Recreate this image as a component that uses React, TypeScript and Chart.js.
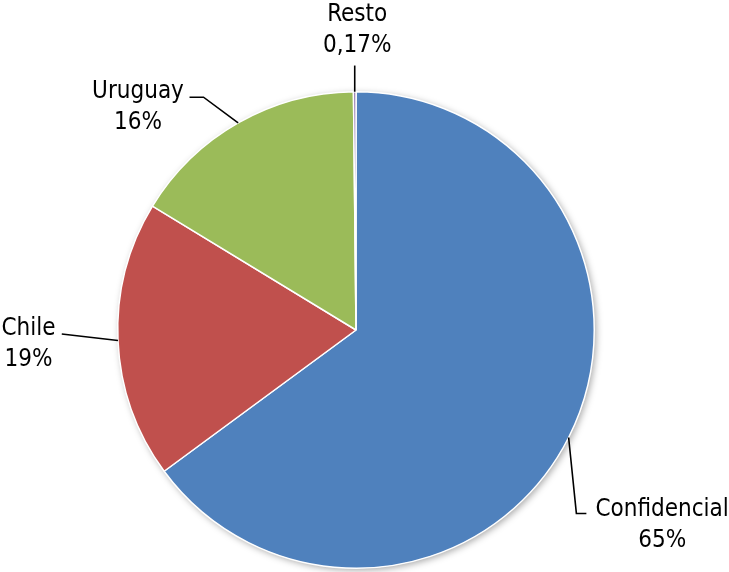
import React, { useEffect, useRef } from "react";
import { Chart, registerables } from "chart.js";

Chart.register(...registerables);

const categories = ["Confidencial", "Chile", "Uruguay", "Resto"];
const values = [64.9, 18.8, 16.13, 0.17];
const percentLabels = ["65%", "19%", "16%", "0,17%"];
const colors = ["#4F81BD", "#C0504D", "#9BBB59", "#8064A2"];

const FONT = "24px 'DejaVu Sans Condensed', 'DejaVu Sans', sans-serif";

const shadowPlugin = {
  id: "pieShadow",
  beforeDatasetsDraw(chart: any) {
    const meta = chart.getDatasetMeta(0);
    const arc = meta.data[0];
    if (!arc) return;
    const { x, y, outerRadius } = arc.getProps(["x", "y", "outerRadius"], true);
    const ctx = chart.ctx;
    ctx.save();
    ctx.shadowColor = "rgba(0,0,0,0.35)";
    ctx.shadowBlur = 7;
    ctx.shadowOffsetX = 2;
    ctx.shadowOffsetY = 2;
    ctx.fillStyle = "#ffffff";
    ctx.beginPath();
    ctx.arc(x, y, outerRadius, 0, Math.PI * 2);
    ctx.fill();
    ctx.restore();
  },
};

const labelPlugin = {
  id: "leaderLabels",
  afterDatasetsDraw(chart: any) {
    const meta = chart.getDatasetMeta(0);
    const ctx = chart.ctx;
    ctx.save();
    ctx.font = FONT;
    ctx.fillStyle = "#000";
    ctx.strokeStyle = "#000";
    ctx.lineWidth = 1.6;
    ctx.textAlign = "center";
    ctx.textBaseline = "middle";
    meta.data.forEach((arc: any, i: number) => {
      const { x, y, startAngle, endAngle, outerRadius } = arc.getProps(
        ["x", "y", "startAngle", "endAngle", "outerRadius"],
        true
      );
      const mid = (startAngle + endAngle) / 2;
      const sx = x + Math.cos(mid) * outerRadius;
      const sy = y + Math.sin(mid) * outerRadius;
      let pts: number[][] = [];
      let lx = 0;
      let ly = 0;
      const R = outerRadius;
      if (i === 0) {
        const ex = x + R * 0.925;
        const ey = y + R * 0.77;
        pts = [[sx, sy], [ex, ey], [ex + 10, ey]];
        lx = x + R * 1.285;
        ly = y + R * 0.745;
      } else if (i === 1) {
        const ex = x - R * 1.235;
        const ey = y + R * 0.017;
        pts = [[sx, sy], [ex, ey]];
        lx = x - R * 1.375;
        ly = y - R * 0.015;
      } else if (i === 2) {
        const ex = x - R * 0.64;
        const ey = y - R * 0.977;
        pts = [[sx, sy], [ex, ey], [ex - 14, ey]];
        lx = x - R * 0.915;
        ly = y - R * 1.01;
      } else {
        pts = [[sx, sy], [sx, y - R * 1.11]];
        lx = x + R * 0.005;
        ly = y - R * 1.33;
      }
      ctx.beginPath();
      pts.forEach((p, k) => (k === 0 ? ctx.moveTo(p[0], p[1]) : ctx.lineTo(p[0], p[1])));
      ctx.stroke();
      ctx.fillText(categories[i], lx, ly + 2);
      ctx.fillText(percentLabels[i], lx, ly + 33);
    });
    ctx.restore();
  },
};

export default function App() {
  const ref = useRef<HTMLCanvasElement>(null);
  useEffect(() => {
    document.body.style.margin = "0";
    const chart = new Chart(ref.current!, {
      type: "pie",
      data: {
        labels: categories,
        datasets: [
          {
            data: values,
            backgroundColor: colors,
            borderColor: "#ffffff",
            borderWidth: 1.5,
          },
        ],
      },
      options: {
        responsive: false,
        animation: false,
        layout: { padding: { top: 91, bottom: 3, left: 117, right: 134 } },
        plugins: { legend: { display: false }, tooltip: { enabled: false } },
      },
      plugins: [shadowPlugin, labelPlugin],
    });
    return () => chart.destroy();
  }, []);
  return (
    <div style={{ width: 729, height: 572, background: "#fff" }}>
      <canvas ref={ref} width={729} height={572} />
    </div>
  );
}
